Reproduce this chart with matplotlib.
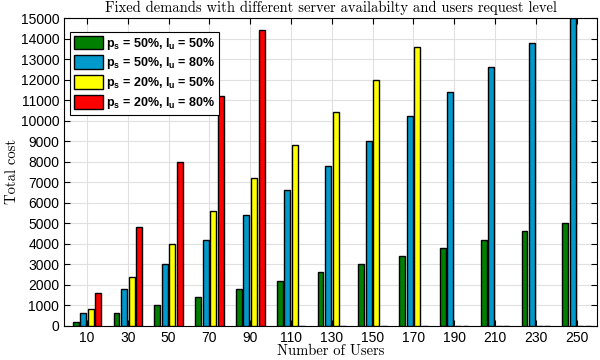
import matplotlib
matplotlib.use('Agg')
import matplotlib.pyplot as plt
import numpy as np

users = [10, 30, 50, 70, 90, 110, 130, 150, 170, 190, 210, 230, 250]
cost_50_50 = [200, 600, 1000, 1400, 1800, 2200, 2600, 3000, 3400, 3800, 4200, 4600, 5000]
cost_50_80 = [600, 1800, 3000, 4200, 5400, 6600, 7800, 9000, 10200, 11400, 12600, 13800, 15000]
cost_20_50 = [800, 2400, 4000, 5600, 7200, 8800, 10400, 12000, 13600, 0, 0, 0, 0]
cost_20_80 = [1600, 4800, 8000, 11200, 14400, 0, 0, 0, 0, 0, 0, 0, 0]

labels = [r'p$_\mathbf{s}$ = 50%, l$_\mathbf{u}$ = 50%',
          r'p$_\mathbf{s}$ = 50%, l$_\mathbf{u}$ = 80%',
          r'p$_\mathbf{s}$ = 20%, l$_\mathbf{u}$ = 50%',
          r'p$_\mathbf{s}$ = 20%, l$_\mathbf{u}$ = 80%']
colors = ['#007f00', '#0099cc', '#ffff00', '#ff0000']

plt.rcParams['font.family'] = 'Liberation Sans'
plt.rcParams['mathtext.fontset'] = 'custom'
plt.rcParams['mathtext.bf'] = 'Liberation Sans:bold'
plt.rcParams['mathtext.rm'] = 'Liberation Sans'
plt.rcParams['axes.formatter.use_mathtext'] = False

fig = plt.figure(figsize=(6, 3.6), dpi=100)
ax = fig.add_axes([0.107, 0.095, 0.888, 0.855])

x = np.arange(len(users))
series = [cost_50_50, cost_50_80, cost_20_50, cost_20_80]
step = 0.185
w = 0.145
for i, (vals, c, lab) in enumerate(zip(series, colors, labels)):
    ax.bar(x + (i - 1.5) * step, vals, width=w, color=c, edgecolor='black',
           linewidth=1.0, label=lab, zorder=3)

ax.set_xlim(-0.56, 12.5)
ax.set_ylim(0, 15000)
ax.set_xticks(x)
ax.set_xticklabels([str(u) for u in users])
ax.set_yticks(np.arange(0, 15001, 1000))
ax.tick_params(direction='in', top=True, right=True, labelsize=10, length=4)
ax.grid(True, color='#e0e0e0', linewidth=0.8, zorder=0)
ax.set_axisbelow(True)
for s in ax.spines.values():
    s.set_linewidth(0.8)

serif = ['cmr10', 'DejaVu Serif']
ax.set_title('Fixed demands with different server availabilty and users request level',
             family=serif, fontsize=10.5, pad=4)
ax.set_xlabel('Number of Users', family=serif, fontsize=10.5, labelpad=0)
ax.set_ylabel('Total cost', family=serif, fontsize=10.5, labelpad=1)

leg = ax.legend(loc='upper left', bbox_to_anchor=(0.0, 0.975), fancybox=False,
                edgecolor='black', framealpha=1, handlelength=2.3, handleheight=1.3,
                borderpad=0.3, labelspacing=0.3, handletextpad=0.25,
                prop={'weight': 'bold', 'size': 9})
leg.get_frame().set_linewidth(0.8)

fig.savefig('out.png', dpi=100)
